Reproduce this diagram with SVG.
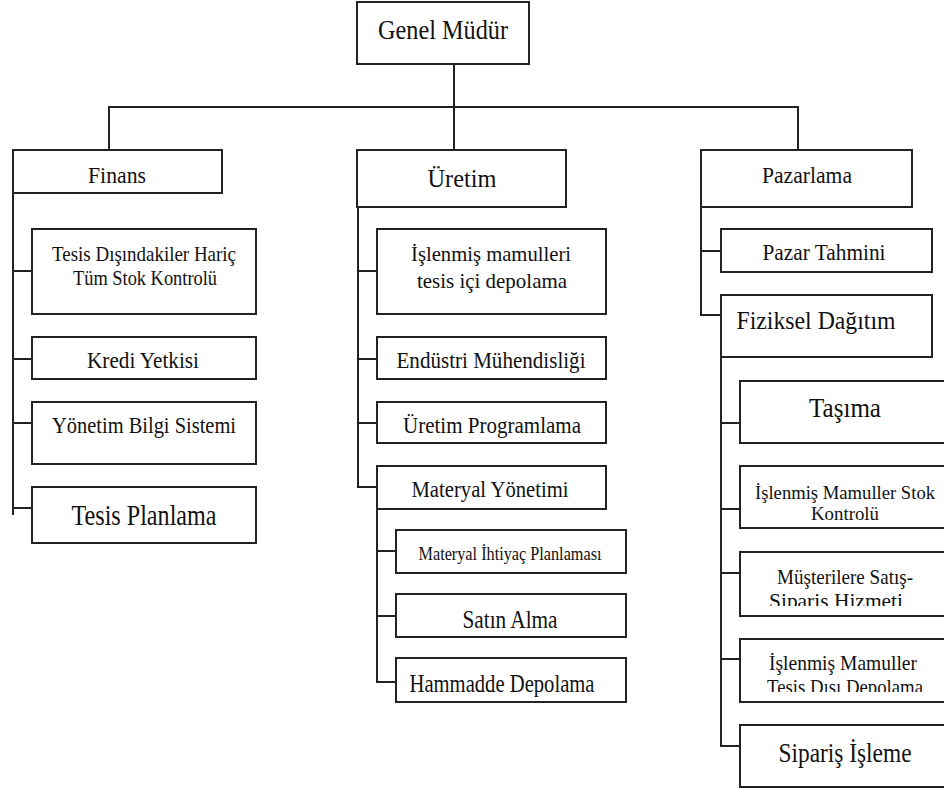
<svg xmlns="http://www.w3.org/2000/svg" width="944" height="788" viewBox="0 0 944 788">
  <style>
    .box { fill: #ffffff; stroke: #222222; stroke-width: 2; }
    .link { fill: none; stroke: #222222; stroke-width: 2; }
    text { font-family: "Liberation Serif", "Times New Roman", serif; fill: #111111; text-anchor: middle; }
  </style>
  <defs>
    <clipPath id="clip-siparis-hizmet"><rect x="740" y="552" width="210" height="54"/></clipPath>
    <clipPath id="clip-tesis-disi"><rect x="740" y="639" width="210" height="53"/></clipPath>
  </defs>
  <rect width="944" height="788" fill="#ffffff"/>

  <!-- connectors -->
  <g id="connectors">
    <path class="link" d="M454,64 V150 M109,150 V107 H798 V150"/>
    <!-- Finans -->
    <path class="link" d="M13,193 V515 M13,271 H32 M13,359 H32 M13,423 H32 M13,508 H32"/>
    <!-- Üretim -->
    <path class="link" d="M358,207 V487 H377 M358,271 H377 M358,359 H377 M358,423 H377"/>
    <!-- Materyal Yönetimi -->
    <path class="link" d="M377,509 V682 H396 M377,551 H396 M377,616 H396"/>
    <!-- Pazarlama -->
    <path class="link" d="M701,207 V315 H721 M701,251 H721"/>
    <!-- Fiziksel Dağıtım -->
    <path class="link" d="M721,357 V746 H740 M721,423 H740 M721,509 H740 M721,573 H740 M721,659 H740"/>
  </g>

  <!-- top level -->
  <g id="genel-mudur">
    <rect class="box" x="357" y="2" width="172" height="62"/>
    <text x="443" y="39" font-size="27" textLength="130" lengthAdjust="spacingAndGlyphs">Genel Müdür</text>
  </g>

  <!-- departments -->
  <g id="finans">
    <rect class="box" x="13" y="150" width="209" height="43"/>
    <text x="117" y="183" font-size="24" textLength="58" lengthAdjust="spacingAndGlyphs">Finans</text>
  </g>
  <g id="uretim">
    <rect class="box" x="357" y="150" width="209" height="57"/>
    <text x="462" y="187" font-size="25" textLength="69" lengthAdjust="spacingAndGlyphs">Üretim</text>
  </g>
  <g id="pazarlama">
    <rect class="box" x="701" y="150" width="211" height="57"/>
    <text x="807" y="183" font-size="24" textLength="90" lengthAdjust="spacingAndGlyphs">Pazarlama</text>
  </g>

  <!-- Finans units -->
  <g id="stok-kontrolu">
    <rect class="box" x="32" y="229" width="224" height="85"/>
    <text x="144" y="261" font-size="22" textLength="184" lengthAdjust="spacingAndGlyphs">Tesis Dışındakiler Hariç</text>
    <text x="145" y="285" font-size="22" textLength="144" lengthAdjust="spacingAndGlyphs">Tüm Stok Kontrolü</text>
  </g>
  <g id="kredi-yetkisi">
    <rect class="box" x="32" y="337" width="224" height="42"/>
    <text x="143" y="368" font-size="24" textLength="112" lengthAdjust="spacingAndGlyphs">Kredi Yetkisi</text>
  </g>
  <g id="yonetim-bilgi-sistemi">
    <rect class="box" x="32" y="402" width="224" height="62"/>
    <text x="144" y="433" font-size="24" textLength="184" lengthAdjust="spacingAndGlyphs">Yönetim Bilgi Sistemi</text>
  </g>
  <g id="tesis-planlama">
    <rect class="box" x="32" y="487" width="224" height="56"/>
    <text x="144" y="525" font-size="30" textLength="145" lengthAdjust="spacingAndGlyphs">Tesis Planlama</text>
  </g>

  <!-- Üretim units -->
  <g id="tesis-ici-depolama">
    <rect class="box" x="377" y="229" width="229" height="85"/>
    <text x="491" y="261" font-size="22" textLength="160" lengthAdjust="spacingAndGlyphs">İşlenmiş mamulleri</text>
    <text x="492" y="288" font-size="22" textLength="150" lengthAdjust="spacingAndGlyphs">tesis içi depolama</text>
  </g>
  <g id="endustri-muhendisligi">
    <rect class="box" x="377" y="337" width="229" height="42"/>
    <text x="491" y="368" font-size="23" textLength="189" lengthAdjust="spacingAndGlyphs">Endüstri Mühendisliği</text>
  </g>
  <g id="uretim-programlama">
    <rect class="box" x="377" y="402" width="229" height="41"/>
    <text x="492" y="433" font-size="23" textLength="178" lengthAdjust="spacingAndGlyphs">Üretim Programlama</text>
  </g>
  <g id="materyal-yonetimi">
    <rect class="box" x="377" y="466" width="229" height="43"/>
    <text x="490" y="497" font-size="24" textLength="157" lengthAdjust="spacingAndGlyphs">Materyal Yönetimi</text>
  </g>
  <g id="materyal-ihtiyac">
    <rect class="box" x="396" y="530" width="230" height="43"/>
    <text x="510" y="560" font-size="19" textLength="183" lengthAdjust="spacingAndGlyphs">Materyal İhtiyaç Planlaması</text>
  </g>
  <g id="satin-alma">
    <rect class="box" x="396" y="594" width="230" height="43"/>
    <text x="510" y="628" font-size="26" textLength="95" lengthAdjust="spacingAndGlyphs">Satın Alma</text>
  </g>
  <g id="hammadde-depolama">
    <rect class="box" x="396" y="658" width="230" height="44"/>
    <text x="502" y="692" font-size="25" textLength="185" lengthAdjust="spacingAndGlyphs">Hammadde Depolama</text>
  </g>

  <!-- Pazarlama units -->
  <g id="pazar-tahmini">
    <rect class="box" x="721" y="229" width="211" height="43"/>
    <text x="824" y="260" font-size="24" textLength="123" lengthAdjust="spacingAndGlyphs">Pazar Tahmini</text>
  </g>
  <g id="fiziksel-dagitim">
    <rect class="box" x="721" y="295" width="211" height="62"/>
    <text x="816" y="329" font-size="25" textLength="159" lengthAdjust="spacingAndGlyphs">Fiziksel Dağıtım</text>
  </g>
  <g id="tasima">
    <rect class="box" x="740" y="381" width="210" height="62"/>
    <text x="845" y="417" font-size="28" textLength="72" lengthAdjust="spacingAndGlyphs">Taşıma</text>
  </g>
  <g id="mamul-stok-kontrolu">
    <rect class="box" x="740" y="466" width="210" height="62"/>
    <text x="845" y="499" font-size="19" textLength="180" lengthAdjust="spacingAndGlyphs">İşlenmiş Mamuller Stok</text>
    <text x="845" y="520" font-size="19" textLength="68" lengthAdjust="spacingAndGlyphs">Kontrolü</text>
  </g>
  <g id="satis-siparis-hizmeti">
    <rect class="box" x="740" y="552" width="210" height="64"/>
    <text x="845" y="584" font-size="22" textLength="136" lengthAdjust="spacingAndGlyphs">Müşterilere Satış-</text>
    <text x="836" y="608" font-size="22" textLength="134" lengthAdjust="spacingAndGlyphs" clip-path="url(#clip-siparis-hizmet)">Sipariş Hizmeti</text>
  </g>
  <g id="tesis-disi-depolama">
    <rect class="box" x="740" y="639" width="210" height="63"/>
    <text x="843" y="670" font-size="21" textLength="148" lengthAdjust="spacingAndGlyphs">İşlenmiş Mamuller</text>
    <text x="845" y="694" font-size="21" textLength="156" lengthAdjust="spacingAndGlyphs" clip-path="url(#clip-tesis-disi)">Tesis Dışı Depolama</text>
  </g>
  <g id="siparis-isleme">
    <rect class="box" x="740" y="725" width="210" height="62"/>
    <text x="845" y="762" font-size="28" textLength="133" lengthAdjust="spacingAndGlyphs">Sipariş İşleme</text>
  </g>
</svg>
